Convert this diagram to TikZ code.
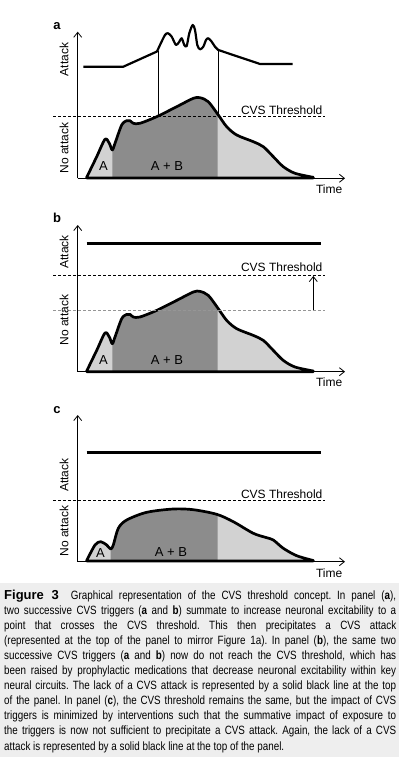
\documentclass[tikz,border=0pt]{standalone}
\usepackage{fontspec}
\setmainfont{Liberation Sans}
\newfontfamily\capfont[FakeStretch=0.82]{Liberation Sans}
\usetikzlibrary{arrows.meta}
\definecolor{darkfill}{RGB}{140,140,140}
\definecolor{lightfill}{RGB}{210,210,210}
\definecolor{capbg}{RGB}{238,238,238}
\definecolor{oldthr}{RGB}{150,150,150}
\tikzset{
  axisline/.style={line width=0.8pt, -{Straight Barb[length=5pt,width=8pt,line width=0.8pt]}},
  curveline/.style={line width=2.7pt, line join=round},
  attackline/.style={line width=2.2pt, line join=round},
  thinline/.style={line width=0.8pt},
  thresh/.style={line width=0.8pt, dash pattern=on 3pt off 2pt},
  oldthresh/.style={line width=0.8pt, dash pattern=on 3pt off 2pt, draw=oldthr},
  lbl/.style={font=\fontsize{12}{12}\selectfont, inner sep=0pt},
  ylbl/.style={lbl, rotate=90},
  plbl/.style={font=\fontsize{13}{13}\selectfont\bfseries, inner sep=0pt},
  arealbl/.style={font=\fontsize{13}{13}\selectfont, inner sep=0pt},
}
\def\curveA{(86.7,178) -- plot[smooth,tension=0.5] coordinates {(86.7,177.3) (96.7,156.7) (105,139.3) (109.3,143.3) (112.3,150) (115,143.3) (121.7,125) (126.7,120.7) (130,120.7) (133.3,123.3) (140,123.3) (156.7,116.7) (176.7,106.7) (193.3,98.3) (200,97.7) (208.3,101.7) (218.3,115) (226.7,126.7) (236.7,135) (253.3,141.7) (263.3,146.7) (273.3,156.7) (283.3,166.7) (295,173.3) (313.3,177.3)} -- (313.3,178) -- cycle}
\def\curveC{(86.7,561) -- plot[smooth,tension=0.5] coordinates {(86.7,560.5) (95,545) (100.7,541.7) (106.7,545) (110.7,549) (113.3,545) (118.3,528.3) (126.7,520) (146.7,512.3) (173.3,509) (193.3,509.7) (216.7,514.3) (233.3,521.7) (253.3,533.3) (266.7,537.7) (273.3,540) (283.3,548.3) (296.7,555.7) (313.3,560.5)} -- (313.3,561) -- cycle}
\begin{document}
\begin{tikzpicture}[x=1pt,y=-1pt]
\useasboundingbox (0,0) rectangle (399,757);
\fill[white] (0,0) rectangle (399,757);
\fill[capbg] (0,583) rectangle (399,757);

% ---------- panel a ----------
\node[plbl] (pa) at (57,26.5) {a};
\coordinate (a0) at (77.7,178.3);
\coordinate (ay) at (77.7,31.7);
\coordinate (ax) at (345,178.3);
\draw[axisline] (a0) -- (ay);
\draw[axisline] (a0) -- (ax);
\fill[lightfill] \curveA;
\begin{scope}
  \clip (112.3,0) rectangle (217.7,200);
  \fill[darkfill] \curveA;
\end{scope}
\draw[curveline] \curveA;
\coordinate (ath1) at (53.3,116.7);
\coordinate (ath2) at (325,116.7);
\draw[thresh] (ath1) -- (ath2);
\coordinate (av1t) at (158.3,51);
\coordinate (av1b) at (158.3,116);
\coordinate (av2t) at (218.3,50);
\coordinate (av2b) at (218.3,115.5);
\draw[thinline] (av1t) -- (av1b);
\draw[thinline] (av2t) -- (av2b);
\draw[attackline] (83.3,66.7) -- (123.3,66.7) -- (157,51.5)
  -- plot[smooth,tension=0.5] coordinates {(157,51.5) (160,45) (165,35) (168,33.3) (171.7,36.7) (176,45) (179.3,41.7) (181.7,38.3) (184.3,45) (186.7,46) (189.3,33.3) (192.7,25) (195,30) (197.3,45) (200,49.3) (203.3,46.7) (206,40) (208.3,38.3) (211.7,41.7) (215,46.7) (218.3,50)}
  -- (260,64) -- (292.7,64);
\node[lbl] (athl) at (281.7,110.5) {CVS Threshold};
\node[lbl] (atime) at (329.2,189.2) {Time};
\node[ylbl] (aatt) at (64,59.5) {Attack};
\node[ylbl] (anoatt) at (64,148.2) {No attack};
\node[arealbl] (aA) at (103.5,166) {A};
\node[arealbl] (aAB) at (167,166) {A + B};

% ---------- panel b ----------
\node[plbl] (pb) at (57,218.3) {b};
\coordinate (b0) at (77.7,371.7);
\coordinate (by) at (77.7,225);
\coordinate (bx) at (345,371.7);
\draw[axisline] (b0) -- (by);
\draw[axisline] (b0) -- (bx);
\begin{scope}[shift={(0,193.7)}]
  \fill[lightfill] \curveA;
  \begin{scope}
    \clip (112.3,0) rectangle (217.7,200);
    \fill[darkfill] \curveA;
  \end{scope}
  \draw[curveline] \curveA;
\end{scope}
\coordinate (btop1) at (86.7,243.3);
\coordinate (btop2) at (321,243.3);
\draw[curveline] (btop1) -- (btop2);
\coordinate (bth1) at (53.3,275);
\coordinate (bth2) at (325,275);
\draw[thresh] (bth1) -- (bth2);
\coordinate (bold1) at (53.3,310.3);
\coordinate (bold2) at (325,310.3);
\draw[oldthresh] (bold1) -- (bold2);
\coordinate (barrb) at (313.3,310.3);
\coordinate (barrt) at (313.3,276);
\draw[axisline] (barrb) -- (barrt);
\node[lbl] (bthl) at (281.7,267.2) {CVS Threshold};
\node[lbl] (btime) at (329.2,382) {Time};
\node[ylbl] (batt) at (64,252) {Attack};
\node[ylbl] (bnoatt) at (64,320.3) {No attack};
\node[arealbl] (bA) at (103.5,360.5) {A};
\node[arealbl] (bAB) at (167,360.5) {A + B};

% ---------- panel c ----------
\node[plbl] (pc) at (57,410.3) {c};
\coordinate (c0) at (77.7,561.7);
\coordinate (cy) at (77.7,415);
\coordinate (cx) at (345,561.7);
\draw[axisline] (c0) -- (cy);
\draw[axisline] (c0) -- (cx);
\fill[lightfill] \curveC;
\begin{scope}
  \clip (110.7,400) rectangle (217.7,600);
  \fill[darkfill] \curveC;
\end{scope}
\draw[curveline] \curveC;
\coordinate (ctop1) at (86.7,452.7);
\coordinate (ctop2) at (321,452.7);
\draw[curveline] (ctop1) -- (ctop2);
\coordinate (cth1) at (53.3,500);
\coordinate (cth2) at (325,500);
\draw[thresh] (cth1) -- (cth2);
\node[lbl] (cthl) at (281.7,494.7) {CVS Threshold};
\node[lbl] (ctime) at (329.2,573) {Time};
\node[ylbl] (catt) at (64,475) {Attack};
\node[ylbl] (cnoatt) at (64,531) {No attack};
\node[arealbl] (cA) at (100.5,553) {A};
\node[arealbl] (cAB) at (171,552) {A + B};

% ---------- caption ----------
\node[anchor=base west, inner sep=0pt, text width=392pt, align=justify,
      font=\capfont\fontsize{12}{15.1}\selectfont\frenchspacing] (cap) at (4,599) {%
{\rmfamily\bfseries\fontsize{13}{15.1}\selectfont Figure 3}\hspace{12pt}Graphical representation of the CVS threshold concept. In panel (\textbf{a}),\linebreak
two successive CVS triggers (\textbf{a} and \textbf{b}) summate to increase neuronal excitability to a\linebreak
point that crosses the CVS threshold. This then precipitates a CVS attack\linebreak
(represented at the top of the panel to mirror Figure 1a). In panel (\textbf{b}), the same two\linebreak
successive CVS triggers (\textbf{a} and \textbf{b}) now do not reach the CVS threshold, which has\linebreak
been raised by prophylactic medications that decrease neuronal excitability within key\linebreak
neural circuits. The lack of a CVS attack is represented by a solid black line at the top\linebreak
of the panel. In panel (\textbf{c}), the CVS threshold remains the same, but the impact of CVS\linebreak
triggers is minimized by interventions such that the summative impact of exposure to\linebreak
the triggers is now not sufficient to precipitate a CVS attack. Again, the lack of a CVS\linebreak
attack is represented by a solid black line at the top of the panel.};
\end{tikzpicture}
\end{document}
